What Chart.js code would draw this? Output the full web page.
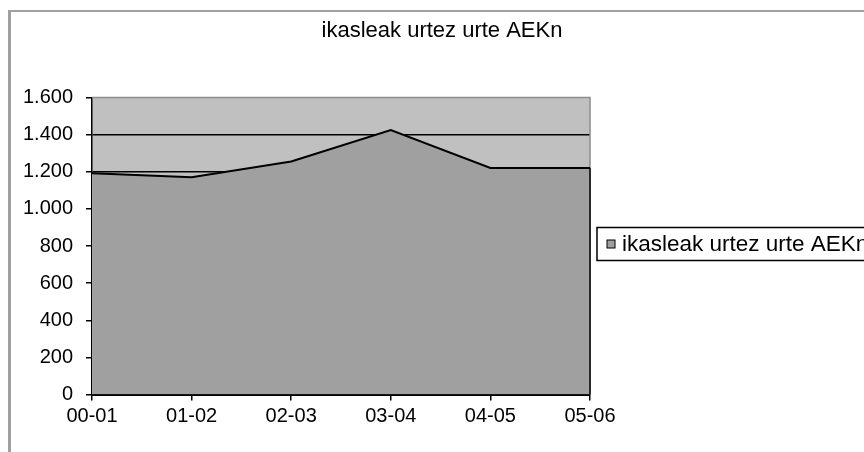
<!DOCTYPE html>
<html>
<head>
<meta charset="utf-8">
<script src="https://cdn.jsdelivr.net/npm/chart.js@4.4.1/dist/chart.umd.min.js"></script>
<style>
    html, body { margin: 0; padding: 0; background: #fff; overflow: hidden; }
    #frame {
        position: absolute; left: 8px; top: 10px; width: 900px; height: 500px;
        border-top: 2px solid #a0a0a0; border-left: 3px solid #a0a0a0;
    }
    #chart { position: absolute; left: 0; top: 0; }
</style>
</head>
<body>
<div id="frame"></div>
<canvas id="chart" width="864" height="452"></canvas>
<script>
// Data
const chartTitle = 'ikasleak urtez urte AEKn';
const seriesName = 'ikasleak urtez urte AEKn';
const years = ['00-01', '01-02', '02-03', '03-04', '04-05', '05-06'];
const students = [1192, 1170, 1255, 1425, 1220, 1220];
const yTicks = [0, 200, 400, 600, 800, 1000, 1200, 1400, 1600];

const FONT = '"Liberation Sans", Arial, sans-serif';

// thousands with a dot: 1.600
const fmt = v => String(v).replace(/\B(?=(\d{3})+(?!\d))/g, '.');

// Plot background, frame, title and legend
const excelLook = {
    id: 'excelLook',
    beforeDraw(chart) {
        const { ctx, chartArea: a } = chart;
        ctx.save();
        ctx.fillStyle = '#c0c0c0';
        ctx.fillRect(a.left, a.top, a.right - a.left, a.bottom - a.top);
        ctx.restore();
    },
    beforeDatasetsDraw(chart) {
        const { ctx, chartArea: a } = chart;
        ctx.save();
        ctx.strokeStyle = '#8c8c8c';
        ctx.lineWidth = 1.5;
        ctx.beginPath();
        ctx.moveTo(a.left, a.top);
        ctx.lineTo(a.right, a.top);
        ctx.lineTo(a.right, a.bottom);
        ctx.stroke();
        ctx.restore();
    },
    afterDatasetsDraw(chart) {
        // black edge of the area on the right side
        const { ctx, chartArea: a } = chart;
        const meta = chart.getDatasetMeta(0);
        const last = meta.data[meta.data.length - 1];
        ctx.save();
        ctx.strokeStyle = '#000';
        ctx.lineWidth = 1.5;
        ctx.beginPath();
        ctx.moveTo(last.x, last.y);
        ctx.lineTo(last.x, a.bottom);
        ctx.stroke();
        ctx.restore();
    },
    afterDraw(chart) {
        const { ctx, chartArea: a } = chart;
        ctx.save();
        // title
        ctx.fillStyle = '#000';
        ctx.font = '22px ' + FONT;
        ctx.textAlign = 'center';
        ctx.textBaseline = 'middle';
        ctx.fillText(chartTitle, chart.width / 2 + 10, 31);

        // legend
        const mid = (a.top + a.bottom) / 2 - 2;
        const bx = a.right + 7;
        ctx.strokeStyle = '#000';
        ctx.lineWidth = 1.5;
        ctx.strokeRect(bx, mid - 16.5, chart.width, 33);
        ctx.fillStyle = chart.data.datasets[0].backgroundColor;
        ctx.fillRect(bx + 10, mid - 4, 8, 8);
        ctx.lineWidth = 1;
        ctx.strokeRect(bx + 10, mid - 4, 8, 8);
        ctx.fillStyle = '#000';
        ctx.textAlign = 'left';
        ctx.font = '22.5px ' + FONT;
        ctx.fillText(chart.data.datasets[0].label, bx + 25, mid + 1);
        ctx.restore();
    }
};

const ctx = document.getElementById('chart').getContext('2d');
const chart = new Chart(ctx, {
    type: 'line',
    data: {
        labels: years,
        datasets: [{
            label: seriesName,
            data: students,
            fill: 'origin',
            backgroundColor: '#a0a0a0',
            borderColor: '#000',
            borderWidth: 2,
            pointRadius: 0,
            tension: 0
        }]
    },
    options: {
        responsive: false,
        animation: false,
        layout: { padding: { top: 97.5, right: 274, left: 0, bottom: 0 } },
        plugins: {
            legend: { display: false },
            title: { display: false },
            tooltip: { enabled: false }
        },
        scales: {
            x: {
                offset: false,
                afterFit: s => { s.height = 57.5; },
                border: { color: '#000', width: 2 },
                grid: { drawOnChartArea: false, tickLength: 6, color: '#000', tickColor: '#000', lineWidth: 1.5 },
                ticks: { color: '#000', font: { family: FONT, size: 20 }, padding: 4, autoSkip: false, maxRotation: 0 }
            },
            y: {
                min: 0,
                max: 1600,
                afterFit: s => { s.width = 92; },
                afterBuildTicks: s => { s.ticks = yTicks.map(v => ({ value: v })); },
                border: { color: '#000', width: 1.5 },
                grid: {
                    color: c => (c.tick.value === 1600 ? 'rgba(0,0,0,0)' : '#000'),
                    tickColor: '#000',
                    tickLength: 6,
                    lineWidth: 1.5
                },
                ticks: { color: '#000', font: { family: FONT, size: 20 }, padding: 13, callback: v => fmt(v) }
            }
        }
    },
    plugins: [excelLook]
});
</script>
</body>
</html>
